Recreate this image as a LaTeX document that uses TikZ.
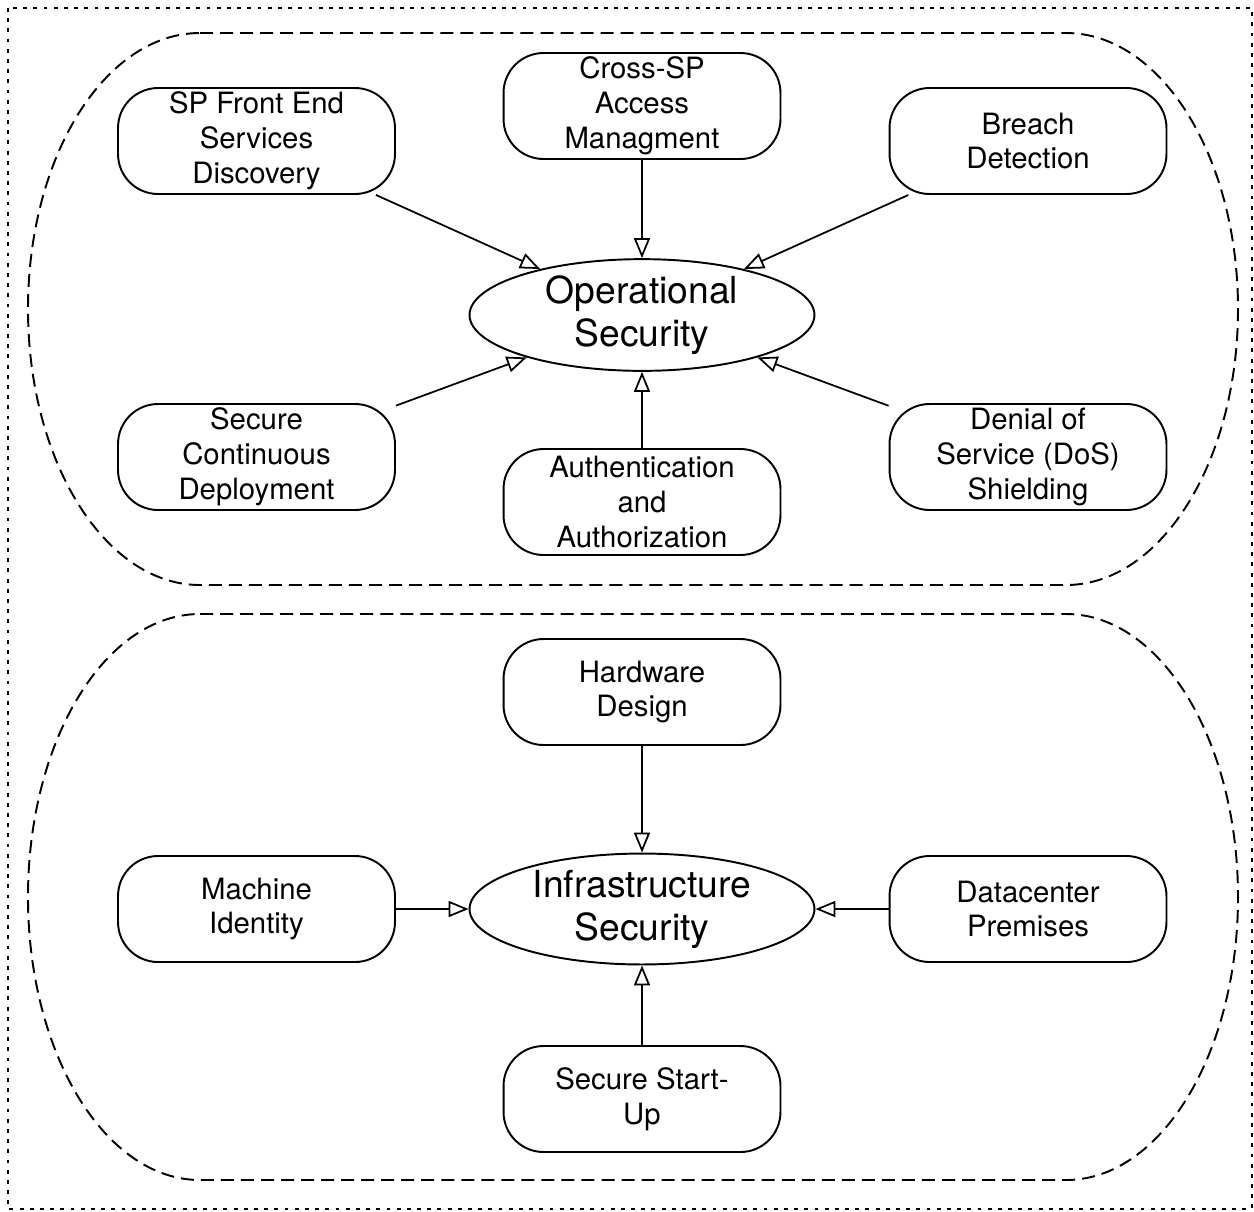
\documentclass[tikz,border=0pt]{standalone}
\usepackage{fontspec}
\setmainfont{TeX Gyre Heros}
\usetikzlibrary{arrows.meta,shapes.geometric}
\begin{document}
\begin{tikzpicture}[x=0.02cm, y=-0.02cm,
        pill/.style={draw, line width=1.1pt, rounded corners=0.8cm, minimum width=5.54cm, minimum height=2.12cm, inner sep=0pt, align=center, font=\fontsize{16.7}{19.9}\selectfont},
        goal/.style={draw, ellipse, line width=1.1pt, minimum width=6.9cm, minimum height=2.12cm, inner sep=0pt, align=center, font=\fontsize{21.2}{24.5}\selectfont},
        feed/.style={-{Triangle[open, length=0.4cm, width=0.32cm]}, line width=1pt},
        zone/.style={dash pattern=on 7.4pt off 4pt, line width=1.1pt}]

        % Outer frame
        \useasboundingbox (0,0) rectangle (1254,1211);
        \draw[dash pattern=on 2.2pt off 3.6pt, line width=1.2pt] (8,8) rectangle (1252,1209);

        % Dashed zones
        \draw[zone] (200,33) -- (1066,33) arc[start angle=-90, end angle=90, x radius=172, y radius=276]
            -- (200,585) arc[start angle=90, end angle=270, x radius=172, y radius=276] -- cycle;
        \draw[zone] (200,614) -- (1066,614) arc[start angle=-90, end angle=90, x radius=172, y radius=283]
            -- (200,1180) arc[start angle=90, end angle=270, x radius=172, y radius=283] -- cycle;

        % Operational security
        \node[goal] (ops) at (642,315) {Operational\\Security};
        \node[pill] (discovery) at (256.5,141) {SP Front End\\Services\\Discovery};
        \node[pill] (access) at (642,106) {Cross-SP\\Access\\Managment};
        \node[pill] (breach) at (1028,141) {Breach\\Detection};
        \node[pill] (deploy) at (256.5,457) {Secure\\Continuous\\Deployment};
        \node[pill] (authn) at (642,502) {Authentication\\and\\Authorization};
        \node[pill] (dos) at (1028,457) {Denial of\\Service (DoS)\\Shielding};

        \draw[feed] (discovery) -- (ops);
        \draw[feed] (access) -- (ops);
        \draw[feed] (breach) -- (ops);
        \draw[feed] (deploy) -- (ops);
        \draw[feed] (authn) -- (ops);
        \draw[feed] (dos) -- (ops);

        % Infrastructure security
        \node[goal] (infra) at (642,909) {Infrastructure\\Security};
        \node[pill] (hardware) at (642,692) {Hardware\\Design};
        \node[pill] (machine) at (256.5,909) {Machine\\Identity};
        \node[pill] (premises) at (1028,909) {Datacenter\\Premises};
        \node[pill] (startup) at (642,1099) {Secure Start-\\Up};

        \draw[feed] (hardware) -- (infra);
        \draw[feed] (machine) -- (infra);
        \draw[feed] (premises) -- (infra);
        \draw[feed] (startup) -- (infra);

    \end{tikzpicture}
\end{document}
